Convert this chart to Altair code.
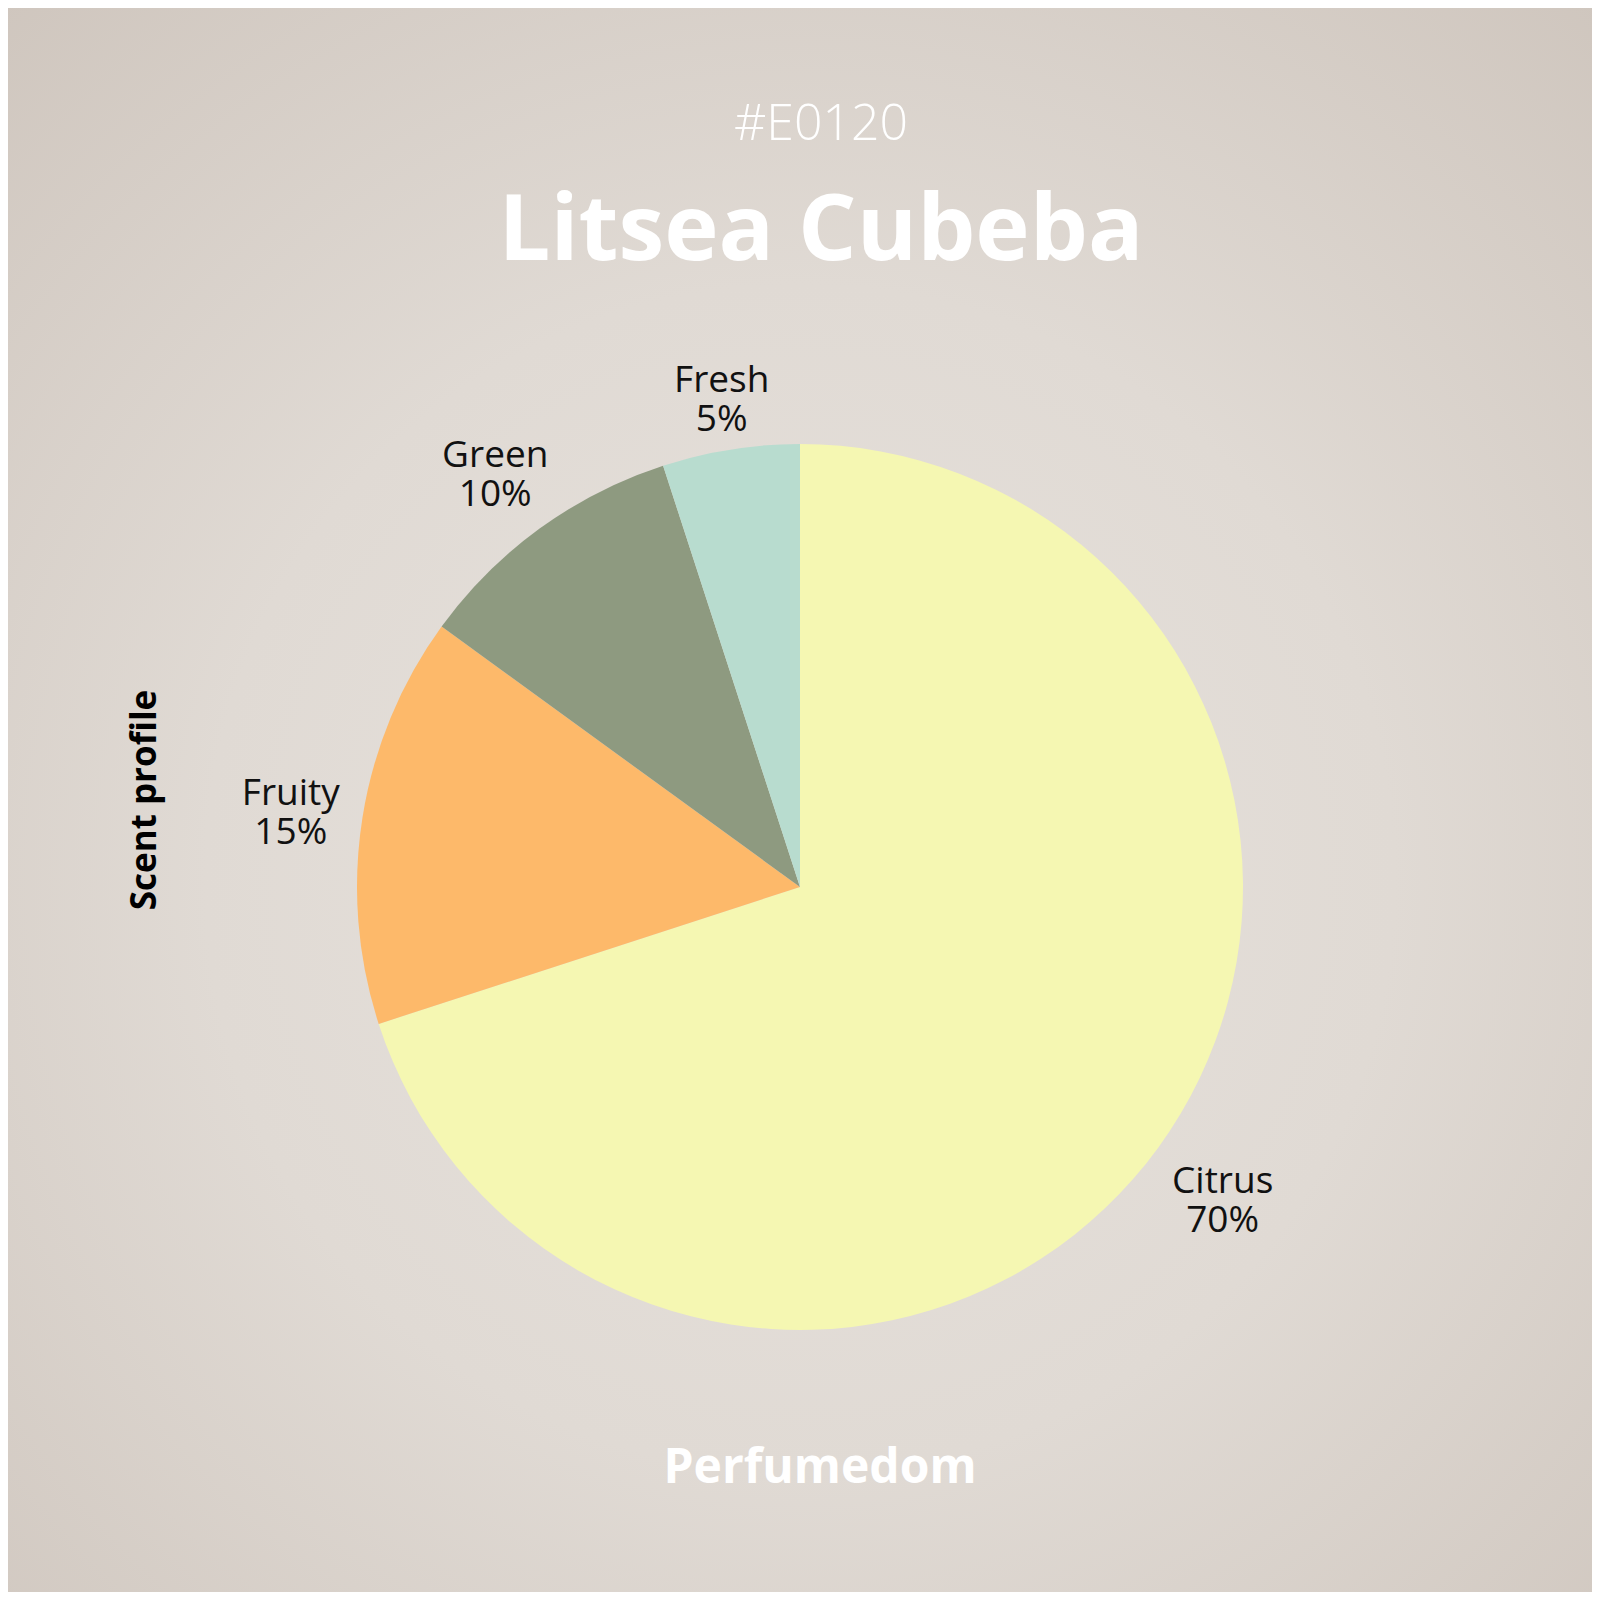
import altair as alt
import pandas as pd

categories = ["Citrus", "Fruity", "Green", "Fresh"]
values = [70, 15, 10, 5]
colors = ["#F5F7B2", "#FDB96A", "#8E9A80", "#B8DCCF"]
code_text = "#E0120"
title_text = "Litsea Cubeba"
brand_text = "Perfumedom"
axis_text = "Scent profile"

df = pd.DataFrame({"category": categories, "value": values,
                   "idx": list(range(len(categories)))})

W = H = 1584
CX, CY = 792, 879
TX = 813
FONT = "Open Sans"

bg = alt.Chart(pd.DataFrame({"a": [0]})).mark_rect(
    fill=alt.RadialGradient(
        gradient="radial", x1=0.5, y1=0.55, r1=0, x2=0.5, y2=0.55, r2=0.75,
        stops=[alt.GradientStop(offset=0, color="#E7E2DD"),
               alt.GradientStop(offset=0.5, color="#E0DAD4"),
               alt.GradientStop(offset=1, color="#CFC6BE")])
).encode(x=alt.value(0), x2=alt.value(W), y=alt.value(0), y2=alt.value(H))

pie = alt.Chart(df).mark_arc(outerRadius=443).encode(
    theta=alt.Theta("value:Q", stack=True),
    order=alt.Order("idx:Q"),
    color=alt.Color("category:N", scale=alt.Scale(domain=categories, range=colors), legend=None),
    x=alt.value(CX), y=alt.value(CY),
)

lab_base = alt.Chart(df).transform_joinaggregate(
    total="sum(value)"
).transform_window(
    cum="sum(value)", sort=[alt.SortField("idx")]
).transform_calculate(
    mid="2*PI*(datum.cum - datum.value/2)/datum.total",
).transform_calculate(
    lr="452 + 58*abs(sin(datum.mid)) + 40*abs(cos(datum.mid))",
    pct="datum.value + '%'",
).transform_calculate(
    lx=f"{CX} + datum.lr*sin(datum.mid)",
    ly=f"{CY} - datum.lr*cos(datum.mid)",
).encode(
    x=alt.X("lx:Q", scale=None, axis=None),
    y=alt.Y("ly:Q", scale=None, axis=None),
    color=alt.value("#111111"),
)
lab_name = lab_base.mark_text(font=FONT, fontSize=37, baseline="middle", align="center", dy=-12).encode(
    text="category:N")
lab_pct = lab_base.mark_text(font=FONT, fontSize=37, baseline="middle", align="center", dy=27).encode(
    text="pct:N")


def txt(s, x, y, size, weight, color, baseline="alphabetic", angle=0):
    return alt.Chart(pd.DataFrame({"t": [s]})).mark_text(
        font=FONT, fontSize=size, fontWeight=weight, color=color,
        baseline=baseline, align="center", angle=angle
    ).encode(text="t:N", x=alt.value(x), y=alt.value(y))


t_code = txt(code_text, TX, 132, 50, 300, "#FFFFFF")
t_title = txt(title_text, TX, 252, 92, "bold", "#FFFFFF")
t_brand = txt(brand_text, TX - 1, 1475, 48, "bold", "#FFFFFF")
t_axis = txt(axis_text, 137, 792, 35, "bold", "#000000", baseline="middle", angle=270)

chart = alt.layer(bg, pie, lab_name, lab_pct, t_code, t_title, t_brand, t_axis).properties(
    width=W, height=H, padding=0,
    autosize=alt.AutoSizeParams(type="fit", contains="padding"),
    background="#D8D0CA",
).configure_view(strokeOpacity=0)

chart.save("out.html", embed_options={"renderer": "svg", "actions": False})
